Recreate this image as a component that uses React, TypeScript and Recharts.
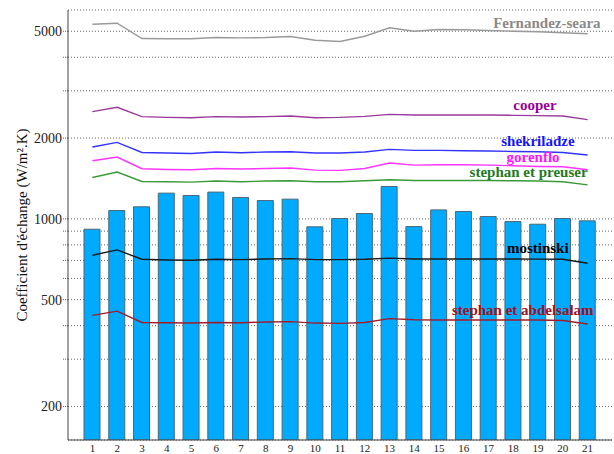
import React from "react"
import {
  ComposedChart,
  Bar,
  Line,
  XAxis,
  YAxis,
  CartesianGrid,
  Label,
} from "recharts"

const categories = [
  "1", "2", "3", "4", "5", "6", "7", "8", "9", "10", "11",
  "12", "13", "14", "15", "16", "17", "18", "19", "20", "21",
]

// measured coefficient (bars)
const measured = [915, 1074, 1109, 1247, 1222, 1258, 1201, 1170, 1184, 934, 1003, 1047, 1320, 936, 1080, 1065, 1020, 977, 955, 1003, 983]

// correlations
const fernandezSeara = [5312, 5358, 4698, 4690, 4690, 4738, 4722, 4738, 4780, 4630, 4578, 4792, 5150, 5003, 5076, 5062, 5032, 5003, 4977, 4934, 4892]
const cooper = [2508, 2603, 2403, 2389, 2382, 2403, 2397, 2403, 2418, 2382, 2389, 2409, 2451, 2439, 2439, 2439, 2439, 2430, 2424, 2418, 2342]
const shekriladze = [1852, 1927, 1768, 1759, 1753, 1774, 1763, 1774, 1779, 1759, 1759, 1774, 1815, 1799, 1799, 1794, 1789, 1783, 1779, 1768, 1729]
const gorenflo = [1646, 1699, 1537, 1528, 1524, 1541, 1533, 1541, 1547, 1519, 1516, 1541, 1614, 1586, 1590, 1590, 1586, 1577, 1567, 1564, 1524]
const stephanPreuser = [1426, 1494, 1378, 1375, 1371, 1383, 1375, 1383, 1386, 1375, 1375, 1386, 1398, 1390, 1390, 1390, 1390, 1386, 1383, 1375, 1339]
const mostinski = [732, 766, 707, 703, 701, 707, 705, 709, 711, 705, 705, 707, 714, 709, 709, 709, 709, 709, 708, 707, 683]
const stephanAbdelsalam = [437, 453, 411, 410, 409, 411, 410, 413, 414, 409, 408, 411, 425, 421, 420, 420, 420, 420, 420, 418, 406]

const yTicks = [200, 300, 400, 500, 600, 700, 800, 900, 1000, 2000, 3000, 4000, 5000]
const yLabelled = [200, 500, 1000, 2000, 5000]

const data = categories.map((cat, i) => ({
  cat,
  measured: measured[i],
  fernandezSeara: fernandezSeara[i],
  cooper: cooper[i],
  shekriladze: shekriladze[i],
  gorenflo: gorenflo[i],
  stephanPreuser: stephanPreuser[i],
  mostinski: mostinski[i],
  stephanAbdelsalam: stephanAbdelsalam[i],
}))

const serif = "'Liberation Serif', 'DejaVu Serif', serif"
const axisColor = "#444"

// line styling + where its name sits, relative to the last point
const series = [
  { key: "fernandezSeara", name: "Fernandez-seara", color: "#9a9a9a", text: "#8a8a8a", dx: 13, dy: -5.5 },
  { key: "cooper", name: "cooper", color: "#9b3a9b", text: "#990099", dx: -31, dy: -9.5 },
  { key: "shekriladze", name: "shekriladze", color: "#3333ff", text: "#1414ff", dx: -13, dy: -9 },
  { key: "gorenflo", name: "gorenflo", color: "#ff33ff", text: "#ff14ff", dx: -28, dy: -7.5 },
  { key: "stephanPreuser", name: "stephan et preuser", color: "#3a9a3a", text: "#1e7a1e", dx: 0, dy: -7.5 },
  { key: "mostinski", name: "mostinski", color: "#1a1a1a", text: "#000", dx: -19, dy: -10 },
  { key: "stephanAbdelsalam", name: "stephan et abdelsalam", color: "#a01c2c", text: "#a01020", dx: 6, dy: -9 },
]

const endLabel = (name: string, color: string, dx: number, dy: number) => (props: any) => {
  if (props.index !== categories.length - 1) return null
  const x = props.x ?? props.viewBox?.x
  const y = props.y ?? props.viewBox?.y
  return (
    <text
      x={x + dx}
      y={y + dy}
      textAnchor="end"
      fill={color}
      fontFamily={serif}
      fontWeight="bold"
      fontSize={15}
    >
      {name}
    </text>
  )
}

export default function App() {
  return (
    <div style={{ position: "absolute", left: 0, top: 0, background: "#fff" }}>
      <ComposedChart
        width={614}
        height={454}
        data={data}
        margin={{ top: 10, right: 2, bottom: 0, left: 0 }}
      >
        <CartesianGrid vertical={false} stroke="#666" strokeDasharray="1 2" />
        <XAxis
          dataKey="cat"
          scale="band"
          padding={{ left: 12, right: 12 }}
          height={14}
          axisLine={{ stroke: axisColor }}
          tickLine={false}
          tickSize={2}
          tickMargin={2}
          interval={0}
          tick={{ fontFamily: serif, fontSize: 11, fill: "#222" }}
        />
        <XAxis
          xAxisId="top"
          dataKey="cat"
          orientation="top"
          scale="band"
          padding={{ left: 12, right: 12 }}
          height={0}
          mirror
          tick={false}
          tickSize={5}
          interval={0}
          axisLine={{ stroke: axisColor }}
          tickLine={{ stroke: axisColor }}
        />
        <YAxis
          scale="log"
          domain={[150, 6000]}
          allowDataOverflow
          ticks={yTicks}
          interval={0}
          width={68}
          axisLine={{ stroke: axisColor }}
          tickLine={{ stroke: "#666", strokeDasharray: "1 1" }}
          tickSize={5}
          tickMargin={1}
          tickFormatter={(v: number) => (yLabelled.includes(v) ? String(v) : "")}
          tick={{ fontFamily: serif, fontSize: 14, fill: "#222" }}
        >
          <Label
            content={(p: any) => {
              const vb = p.viewBox || { x: 0, y: 10, width: 68, height: 430 }
              const cx = 22
              const cy = vb.y + vb.height / 2
              return (
                <text
                  x={cx}
                  y={cy}
                  transform={`rotate(-90 ${cx} ${cy})`}
                  textAnchor="middle"
                  dominantBaseline="central"
                  fontFamily={serif}
                  fontSize={15}
                  fill="#111"
                >
                  Coefficient d'échange (W/m².K)
                </text>
              )
            }}
          />
        </YAxis>
        <YAxis
          yAxisId="right"
          orientation="right"
          scale="log"
          domain={[150, 6000]}
          allowDataOverflow
          ticks={yTicks}
          interval={0}
          width={0}
          mirror
          tick={false}
          tickSize={6}
          axisLine={{ stroke: axisColor }}
          tickLine={{ stroke: axisColor }}
        />
        <Bar
          dataKey="measured"
          fill="#00aaff"
          stroke="#4b6878"
          strokeWidth={1}
          barSize={16}
          isAnimationActive={false}
        />
        {series.map((s) => (
          <Line
            key={s.key}
            xAxisId="top"
            yAxisId="right"
            dataKey={s.key}
            stroke={s.color}
            strokeWidth={1.4}
            dot={false}
            type="linear"
            label={endLabel(s.name, s.text, s.dx, s.dy)}
            isAnimationActive={false}
          />
        ))}
      </ComposedChart>
    </div>
  )
}
